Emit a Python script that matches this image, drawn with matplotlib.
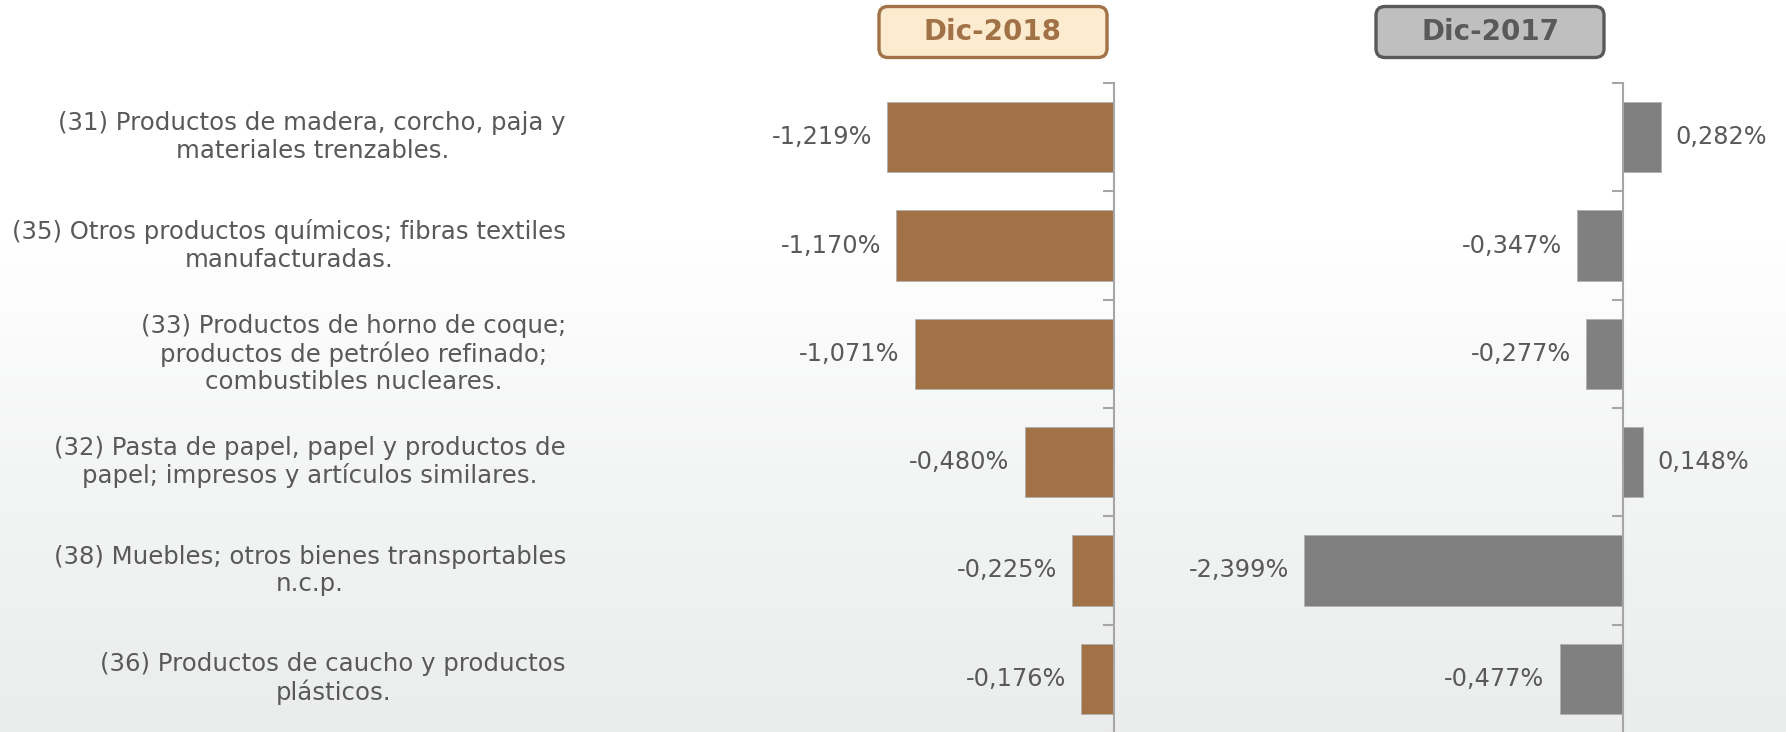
import numpy as np
import matplotlib
matplotlib.use("Agg")
import matplotlib.pyplot as plt
from matplotlib.patches import FancyBboxPatch
from matplotlib.transforms import IdentityTransform, blended_transform_factory

# ---------------- data ----------------
categories = [
    "(31) Productos de madera, corcho, paja y\nmateriales trenzables.",
    "(35) Otros productos químicos; fibras textiles\nmanufacturadas.",
    "(33) Productos de horno de coque;\nproductos de petróleo refinado;\ncombustibles nucleares.",
    "(32) Pasta de papel, papel y productos de\npapel; impresos y artículos similares.",
    "(38) Muebles; otros bienes transportables\nn.c.p.",
    "(36) Productos de caucho y productos\nplásticos.",
]
dic2018 = [-1.219, -1.170, -1.071, -0.480, -0.225, -0.176]
dic2017 = [0.282, -0.347, -0.277, 0.148, -2.399, -0.477]
titles = ["Dic-2018", "Dic-2017"]

# ---------------- style ----------------
W, H, DPI = 1786, 732, 100
TXT = "#595959"
BROWN = "#A07246"
GRAY = "#808080"
plt.rcParams["font.family"] = ["DejaVu Sans"]

fig = plt.figure(figsize=(W / DPI, H / DPI), dpi=DPI)
fig.patch.set_facecolor("white")

# background gradient
bg = fig.add_axes([0, 0, 1, 1], zorder=-10)
grad = np.linspace(0, 1, 256)[:, None]
cmap = matplotlib.colors.LinearSegmentedColormap.from_list(
    "bg", ["#FFFFFF", "#FFFFFF", "#F3F4F4", "#EBEDED"])
bg.imshow(grad, aspect="auto", cmap=cmap, extent=[0, 1, 0, 1], origin="upper")
bg.axis("off")


def px_axes(left, top, width, height):
    return fig.add_axes([left / W, (H - top - height) / H, width / W, height / H])


y = np.arange(len(categories))

panels = [
    dict(vals=dic2018, color=BROWN, xlim=(-1.9, 0.0), zero=1114, scale=186),
    dict(vals=dic2017, color=GRAY, xlim=(-2.6, 0.6), zero=1623, scale=133),
]

axes = []
for p in panels:
    x0, x1 = p["xlim"]
    left = p["zero"] + x0 * p["scale"]
    width = (x1 - x0) * p["scale"]
    ax = px_axes(left, 83, width, 650)
    ax.patch.set_alpha(0)
    ax.barh(y, p["vals"], height=0.65, color=p["color"], edgecolor="#B0B0B0", linewidth=0.6)
    ax.set_xlim(x0, x1)
    ax.set_ylim(len(categories) - 0.5, -0.5)
    for s in ["top", "right", "bottom"]:
        ax.spines[s].set_visible(False)
    ax.spines["left"].set_position(("data", 0))
    ax.spines["left"].set_color("#A6A6A6")
    ax.spines["left"].set_linewidth(1.5)
    ax.set_xticks([])
    ax.set_yticks([])
    ax.set_yticks(np.arange(-0.5, len(categories) + 0.5, 1), minor=True)
    ax.tick_params(axis="y", which="minor", direction="out", length=8, width=1.5,
                   color="#A6A6A6", labelleft=False)
    for yi, v in zip(y, p["vals"]):
        lab = f"{v:.3f}".replace(".", ",") + "%"
        gap = 15 / p["scale"]
        ax.text(v + (gap if v >= 0 else -gap), yi, lab, ha="left" if v >= 0 else "right",
                va="center", fontsize=17.3, color=TXT, clip_on=False)
    axes.append(ax)

# category labels
tr = blended_transform_factory(fig.transFigure, axes[0].transData)
for yi, c in zip(y, categories):
    axes[0].text(566 / W, yi, c, transform=tr, ha="right", va="center",
                 multialignment="center", fontsize=17.6, color=TXT,
                 linespacing=1.18, clip_on=False)

# header boxes
heads = [
    dict(cx=993, face="#FDEBD0", edge="#A07246", tc="#A07246"),
    dict(cx=1490, face="#BFBFBF", edge="#595959", tc="#595959"),
]
for t, h in zip(titles, heads):
    bw, bh, cy = 228, 51, 32
    patch = FancyBboxPatch((h["cx"] - bw / 2, H - cy - bh / 2), bw, bh,
                           boxstyle="round,pad=0,rounding_size=9",
                           transform=IdentityTransform(), facecolor=h["face"],
                           edgecolor=h["edge"], linewidth=2.4)
    fig.patches.append(patch)
    fig.text(h["cx"] / W, 1 - cy / H, t, ha="center", va="center",
             fontsize=20, fontweight="bold", color=h["tc"])

fig.savefig("out.png", dpi=DPI)
